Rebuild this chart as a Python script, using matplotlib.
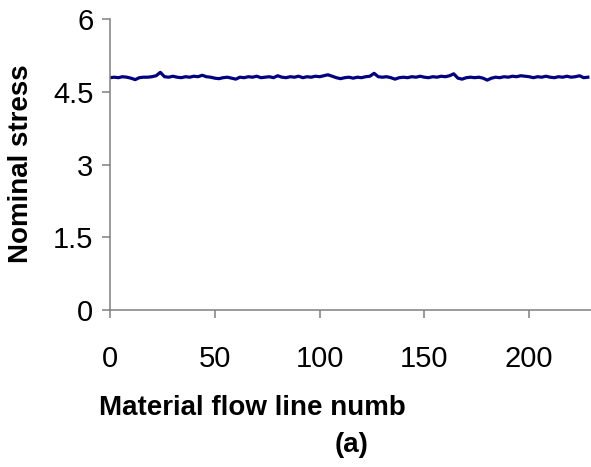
import numpy as np
import matplotlib
matplotlib.use('Agg')
import matplotlib.pyplot as plt

plt.rcParams['font.family'] = ['Liberation Sans', 'DejaVu Sans']

# material flow line number (every 2nd line)
line_no = np.arange(0, 230, 2)
stress = [4.79, 4.80, 4.79, 4.81, 4.80, 4.78, 4.75, 4.79, 4.80, 4.80,
          4.81, 4.83, 4.90, 4.81, 4.80, 4.82, 4.80, 4.79, 4.81, 4.80,
          4.82, 4.81, 4.84, 4.81, 4.80, 4.78, 4.77, 4.79, 4.80, 4.78,
          4.76, 4.80, 4.79, 4.81, 4.80, 4.82, 4.79, 4.80, 4.81, 4.79,
          4.83, 4.80, 4.79, 4.81, 4.80, 4.82, 4.79, 4.81, 4.80, 4.82,
          4.81, 4.83, 4.85, 4.82, 4.79, 4.77, 4.79, 4.80, 4.78, 4.80,
          4.79, 4.81, 4.82, 4.88, 4.81, 4.80, 4.81, 4.79, 4.76, 4.79,
          4.80, 4.79, 4.81, 4.80, 4.82, 4.80, 4.79, 4.81, 4.80, 4.82,
          4.81, 4.83, 4.87, 4.78, 4.76, 4.79, 4.80, 4.79, 4.80, 4.78,
          4.74, 4.78, 4.80, 4.79, 4.81, 4.80, 4.82, 4.81, 4.83, 4.82,
          4.81, 4.79, 4.81, 4.80, 4.82, 4.80, 4.79, 4.81, 4.80, 4.82,
          4.80, 4.81, 4.83, 4.79, 4.80]

x_ticks = [0, 50, 100, 150, 200]
y_ticks = [0, 1.5, 3, 4.5, 6]
y_tick_labels = ['0', '1.5', '3', '4.5', '6']

fig = plt.figure(figsize=(5.91, 4.67), dpi=100)
ax = fig.add_axes([110 / 591, 1 - 310 / 467, 481 / 591, 291 / 467])

ax.plot(line_no, stress, color='#000080', linewidth=2.3)

ax.set_xlim(0, 229.5)
ax.set_ylim(0, 6)
ax.set_xticks(x_ticks)
ax.set_yticks(y_ticks)
ax.set_yticklabels(y_tick_labels)

for side in ['top', 'right']:
    ax.spines[side].set_visible(False)
for side in ['left', 'bottom']:
    ax.spines[side].set_color('#808080')
    ax.spines[side].set_linewidth(1.1)

ax.tick_params(axis='both', direction='out', length=6, width=1.1,
               color='#808080', labelsize=21, labelcolor='black')
ax.tick_params(axis='x', pad=19)
ax.tick_params(axis='y', pad=6)

fig.text(21 / 591, 1 - 164 / 467, 'Nominal stress', rotation=90,
         ha='center', va='center', fontsize=20, fontweight='bold')
fig.text(99 / 591, 1 - 415 / 467, 'Material flow line numb',
         ha='left', va='baseline', fontsize=20, fontweight='bold')
fig.text(352 / 591, 1 - 445 / 467, '(a)',
         ha='center', va='center', fontsize=20, fontweight='bold')

plt.savefig('out.png', dpi=100)
